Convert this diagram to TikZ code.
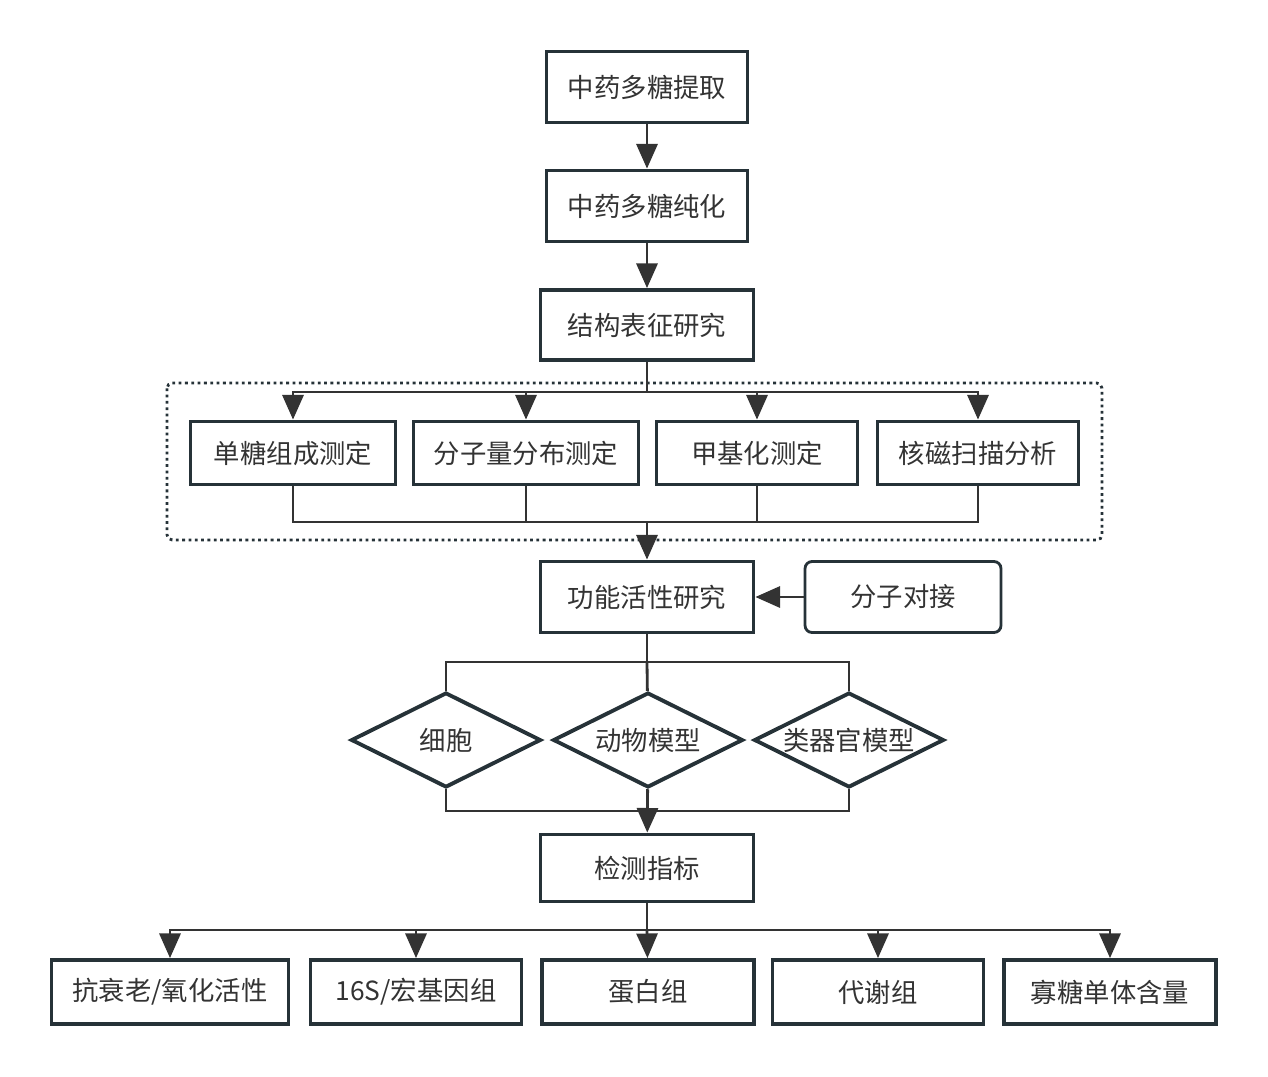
\documentclass[tikz,border=0pt]{standalone}
\usepackage{fontspec}
\usepackage{tikz}
\usetikzlibrary{arrows.meta,shapes.geometric}
\newfontfamily\cjk{Noto Sans CJK SC}
\definecolor{edge}{HTML}{263238}
\definecolor{ink}{HTML}{333333}

\begin{document}
\begin{tikzpicture}[x=0.02cm, y=-0.02cm,
        box/.style={draw=edge, line width=2.2pt, rectangle, inner sep=0pt, minimum height=1.42cm,
            font=\cjk\fontsize{15pt}{17pt}\selectfont, text=ink},
        dia/.style={draw=edge, line width=2.2pt, diamond, inner sep=0pt, minimum width=3.8cm,
            minimum height=1.9cm, font=\cjk\fontsize{15pt}{17pt}\selectfont, text=ink},
        wire/.style={draw=ink, line width=1.6pt},
        arr/.style={wire, -{Triangle[length=14pt, width=12pt]}}]
        \useasboundingbox (0,0) rectangle (1268,1076);

        \node[box, minimum width=4.02cm] (a) at (647,87) {中药多糖提取};
        \node[box, minimum width=4.02cm] (b) at (647,206) {中药多糖纯化};
        \node[box, minimum width=4.26cm, minimum height=1.40cm] (c) at (647,325) {结构表征研究};

        \node[box, minimum width=4.10cm, minimum height=1.26cm] (r1) at (293,453) {单糖组成测定};
        \node[box, minimum width=4.50cm, minimum height=1.26cm] (r2) at (526,453) {分子量分布测定};
        \node[box, minimum width=4.02cm, minimum height=1.26cm] (r3) at (757,453) {甲基化测定};
        \node[box, minimum width=4.02cm, minimum height=1.26cm] (r4) at (978,453) {核磁扫描分析};
        \draw[draw=edge, line width=1.6pt, dotted, rounded corners=3pt] (167,383) rectangle (1102,540);

        \node[box, minimum width=4.26cm] (f) at (647,597) {功能活性研究};
        \node[box, line width=1.6pt, rounded corners=4pt, minimum width=3.92cm] (m) at (903,597) {分子对接};

        \node[dia] (d1) at (446,740) {\makebox[0pt]{细胞}};
        \node[dia] (d2) at (648,740) {\makebox[0pt]{动物模型}};
        \node[dia] (d3) at (849,740) {\makebox[0pt]{类器官模型}};

        \node[box, minimum width=4.26cm, minimum height=1.34cm] (k) at (647,868) {检测指标};

        \node[box, minimum width=4.74cm, minimum height=1.28cm] (e1) at (170,992) {抗衰老/氧化活性};
        \node[box, minimum width=4.22cm, minimum height=1.28cm] (e2) at (416,992) {16S/宏基因组};
        \node[box, minimum width=4.24cm, minimum height=1.28cm] (e3) at (648,992) {蛋白组};
        \node[box, minimum width=4.22cm, minimum height=1.28cm] (e4) at (878,992) {代谢组};
        \node[box, minimum width=4.24cm, minimum height=1.28cm] (e5) at (1110,992) {寡糖单体含量};

        \coordinate (s1) at (647,392);
        \coordinate (s2) at (647,522);
        \coordinate (s3) at (647,662);
        \coordinate (s4) at (647,811);
        \coordinate (s5) at (647,930);

        \draw[arr] (a) -- (b);
        \draw[arr] (b) -- (c);

        \draw[wire] (c) -- (s1);
        \draw[arr] (s1) -| (r1);
        \draw[arr] (s1) -| (r2);
        \draw[arr] (s1) -| (r3);
        \draw[arr] (s1) -| (r4);
        \draw[wire] (r1) |- (s2) -| (r4);
        \draw[wire] (r2) |- (s2);
        \draw[wire] (r3) |- (s2);
        \draw[arr] (s2) -- (f);

        \draw[arr] (m) -- (f);

        \draw[wire] (f) -- (s3);
        \draw[wire] (d1) |- (s3) -| (d3);
        \draw[wire] (s3) -- (d2);
        \draw[wire] (d1) |- (s4) -| (d3);
        \draw[arr] (d2) -- (k);

        \draw[wire] (k) -- (s5);
        \draw[arr] (s5) -| (e1);
        \draw[arr] (s5) -| (e2);
        \draw[arr] (s5) -- (e3);
        \draw[arr] (s5) -| (e4);
        \draw[arr] (s5) -| (e5);
\end{tikzpicture}
\end{document}
